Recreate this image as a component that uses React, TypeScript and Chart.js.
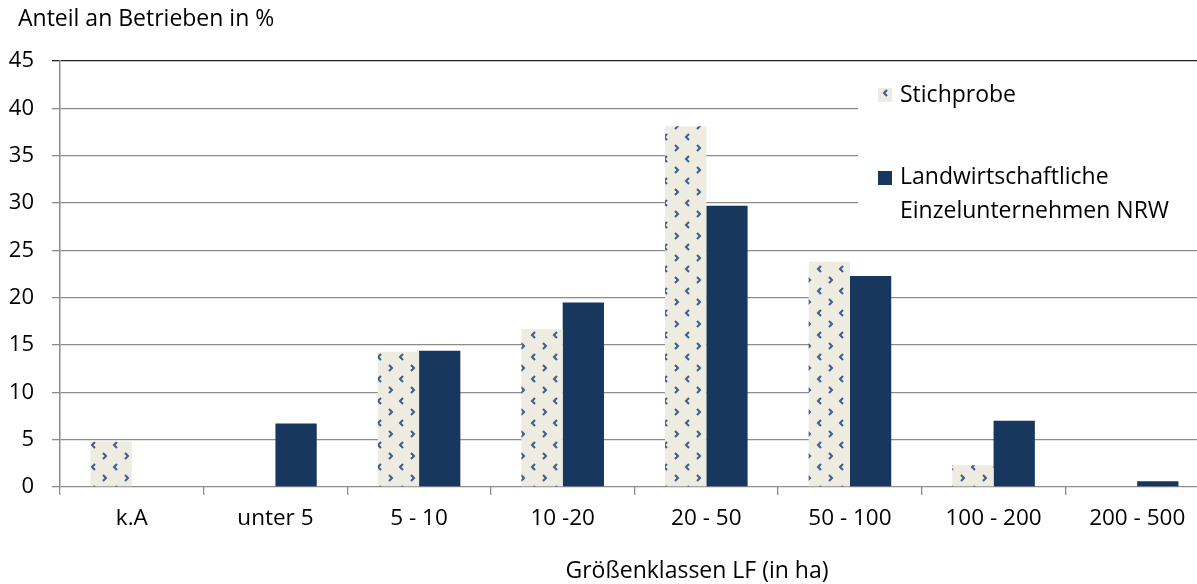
import React, { useEffect, useRef } from "react";
import { Chart, registerables } from "chart.js";

Chart.register(...registerables);

const categories = ["k.A", "unter 5", "5 - 10", "10 -20", "20 - 50", "50 - 100", "100 - 200", "200 - 500"];
const stichprobe = [4.8, 0, 14.3, 16.7, 38.1, 23.8, 2.3, 0];
const nrw = [0, 6.7, 14.4, 19.5, 29.7, 22.3, 7.0, 0.6];
const seriesNames = ["Stichprobe", ["Landwirtschaftliche", "Einzelunternehmen NRW"]];
const yTitle = "Anteil an Betrieben in %";
const xTitle = "Größenklassen LF (in ha)";

const FONT = "'Open Sans', 'Noto Sans', sans-serif";
const DARK = "#17375E";
const BEIGE = "#EEEBE0";
const CHEV = "#3C5C8E";

function makePattern(): CanvasPattern | string {
  const c = document.createElement("canvas");
  c.width = 22;
  c.height = 22;
  const g = c.getContext("2d");
  if (!g) return BEIGE;
  g.fillStyle = BEIGE;
  g.fillRect(0, 0, 22, 22);
  g.strokeStyle = CHEV;
  g.lineWidth = 2;
  // "<" chevron
  g.beginPath();
  g.moveTo(7, 2);
  g.lineTo(4, 5);
  g.lineTo(7, 8);
  g.stroke();
  // ">" chevron
  g.beginPath();
  g.moveTo(15, 13);
  g.lineTo(18, 16);
  g.lineTo(15, 19);
  g.stroke();
  const p = g.createPattern(c, "repeat");
  return p || BEIGE;
}

export default function App() {
  const ref = useRef<HTMLCanvasElement | null>(null);

  useEffect(() => {
    if (!ref.current) return;
    const pattern = makePattern();

    const overlay = {
      id: "overlay",
      afterDraw(chart: any) {
        const ctx = chart.ctx as CanvasRenderingContext2D;
        ctx.save();
        // titles
        ctx.fillStyle = "#000";
        ctx.font = `23px ${FONT}`;
        ctx.textBaseline = "middle";
        ctx.textAlign = "left";
        ctx.fillText(yTitle, 18, 19);
        ctx.textAlign = "center";
        ctx.fillText(xTitle, 697, 571);
        // legend box
        ctx.fillStyle = "#fff";
        ctx.fillRect(858, 66, chart.width - 858, 174);
        ctx.fillStyle = pattern as any;
        ctx.fillRect(878, 88, 14, 14);
        ctx.fillStyle = DARK;
        ctx.fillRect(878, 171, 14, 14);
        ctx.fillStyle = "#000";
        ctx.textAlign = "left";
        ctx.font = `23px ${FONT}`;
        ctx.fillText(seriesNames[0] as string, 900, 95);
        const l2 = seriesNames[1] as string[];
        ctx.fillText(l2[0], 900, 177);
        ctx.fillText(l2[1], 900, 211);
        ctx.restore();
      },
    };

    const chart = new Chart(ref.current, {
      type: "bar",
      data: {
        labels: categories,
        datasets: [
          {
            label: "Stichprobe",
            data: stichprobe,
            backgroundColor: pattern as any,
            borderWidth: 0,
            categoryPercentage: 0.575,
            barPercentage: 1,
          },
          {
            label: "Landwirtschaftliche Einzelunternehmen NRW",
            data: nrw,
            backgroundColor: DARK,
            borderWidth: 0,
            categoryPercentage: 0.575,
            barPercentage: 1,
          },
        ],
      },
      options: {
        responsive: false,
        animation: false,
        layout: { padding: { top: 61, right: 6, left: 0, bottom: 0 } },
        plugins: {
          legend: { display: false },
          tooltip: { enabled: false },
          title: { display: false },
        },
        scales: {
          x: {
            afterFit: (s: any) => {
              s.height = 97;
            },
            grid: {
              display: true,
              drawOnChartArea: false,
              drawTicks: true,
              tickLength: 8,
              offset: true,
              color: "#8c8c8c",
              lineWidth: 1.3,
            },
            border: { display: false },
            ticks: {
              color: "#000",
              font: { family: FONT, size: 22.5 },
              padding: 10,
              maxRotation: 0,
              autoSkip: false,
            },
          },
          y: {
            min: 0,
            max: 45,
            afterFit: (s: any) => {
              s.width = 60;
            },
            grid: {
              color: (c: any) => (c.tick && c.tick.value === 45 ? "#222" : "#8c8c8c"),
              lineWidth: 1.3,
              tickLength: 8,
              drawTicks: true,
            },
            border: { display: true, color: "#8c8c8c", width: 1.5 },
            ticks: {
              stepSize: 5,
              color: "#000",
              font: { family: FONT, size: 22 },
              padding: 18,
            },
          },
        },
      },
      plugins: [overlay],
    });
    return () => chart.destroy();
  }, []);

  return (
    <div style={{ position: "fixed", left: 0, top: 0, width: 1197, height: 584, overflow: "hidden", background: "#fff" }}>
      <canvas ref={ref} width={1215} height={584} style={{ display: "block" }} />
    </div>
  );
}
